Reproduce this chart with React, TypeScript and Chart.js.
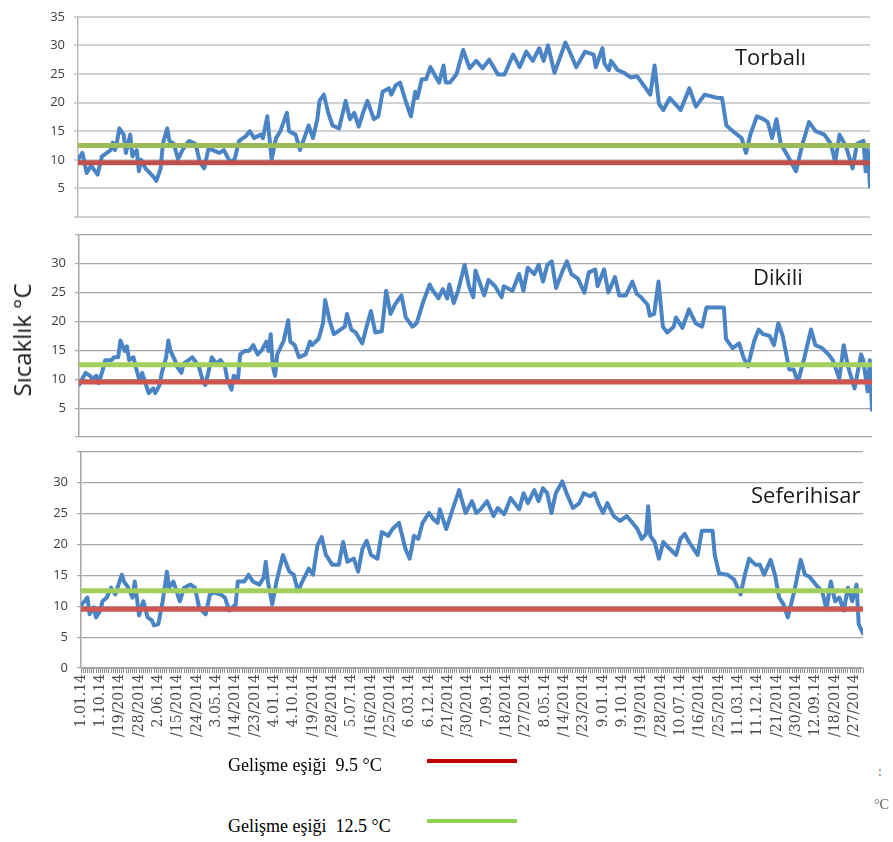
import React, { useEffect, useRef } from "react";
import { Chart, registerables } from "chart.js";

Chart.register(...registerables);

type Pt = [number, number];

// day of year (0 = 1 Jan 2014), daily temperature °C
const torbaliTemps: Pt[] = [
  [0, 10], [2, 11.2], [4, 7.7], [6, 9], [9, 7.4], [11, 10.6], [15, 11.7], [16, 13], [17, 11.7], [18, 13.3],
  [19, 15.5], [21, 14.4], [22, 11.2], [24, 14.4], [25, 10.6], [27, 11.7], [28, 8], [29, 10], [31, 8.5], [33, 7.7],
  [35, 6.9], [36, 6.3], [38, 8.5], [39, 12.8], [41, 15.5], [42, 13.3], [44, 12.8], [46, 10.1], [48, 11.7], [50, 12.8],
  [51, 13.3], [54, 12.8], [56, 9.6], [58, 8.5], [60, 12], [62, 11.7], [65, 11.2], [67, 11.7], [70, 9.6], [72, 10.1],
  [74, 13.3], [77, 14.1], [79, 15], [81, 13.8], [84, 14.4], [85, 13.8], [87, 17.6], [88, 13.8], [89, 10.1], [91, 13.8],
  [93, 15], [96, 18.2], [97, 15], [100, 14.4], [102, 11.7], [104, 13.8], [106, 16], [108, 13.8], [110, 17.1], [111, 20.3],
  [113, 21.4], [115, 18.2], [117, 16], [120, 15.5], [123, 20.3], [125, 17.1], [127, 18.2], [129, 15.8], [131, 18.2], [133, 20.3],
  [136, 17.1], [138, 17.6], [140, 21.9], [143, 22.5], [144, 21.4], [146, 23], [148, 23.5], [151, 19.8], [153, 17.6], [155, 21.9],
  [156, 20.8], [158, 24.1], [160, 24.1], [162, 26.2], [165, 24.1], [166, 23.5], [168, 26.5], [169, 23.5], [171, 23.5], [174, 25],
  [177, 29.2], [180, 26], [183, 27.3], [186, 26], [189, 27.5], [193, 24.9], [196, 24.9], [200, 28.4], [203, 26.2], [206, 28.9],
  [209, 27.3], [212, 29.5], [214, 27.3], [216, 30], [219, 25.2], [222, 28.4], [224, 30.5], [226, 28.9], [229, 26.2], [233, 28.9],
  [237, 28.4], [238, 26.2], [241, 29.5], [242, 26.8], [244, 25.7], [245, 27.3], [248, 25.7], [251, 25.2], [254, 24.4], [257, 24.6],
  [260, 23], [263, 21.4], [265, 26.5], [267, 19.8], [269, 18.7], [272, 20.8], [277, 18.7], [281, 22.5], [284, 19.3], [288, 21.4],
  [294, 20.8], [296, 20.8], [298, 16], [301, 15], [305, 13.8], [307, 11.2], [309, 14.4], [312, 17.6], [315, 17.1], [317, 16.6],
  [319, 13.8], [321, 17.1], [323, 12.8], [327, 10.1], [330, 8], [333, 12.8], [336, 16.6], [339, 15], [343, 14.4], [346, 12.8],
  [348, 9.6], [350, 14.4], [353, 12.3], [356, 8.5], [358, 12.8], [361, 13.3], [362, 8], [363, 11.7], [364, 5.3],
];

const dikiliTemps: Pt[] = [
  [0, 9], [3, 11.1], [5, 10.6], [6, 10.1], [8, 10.6], [9, 9.3], [11, 11.7], [12, 13.3], [15, 13.3], [16, 13.8],
  [18, 13.8], [19, 16.7], [21, 14.9], [22, 15.7], [23, 13.3], [25, 13.8], [26, 12.2], [28, 9.5], [29, 11.1], [32, 7.6],
  [34, 8.4], [35, 7.6], [37, 9], [38, 11.1], [40, 13.8], [41, 16.7], [42, 14.9], [44, 13.3], [45, 12.2], [47, 11.1],
  [48, 12.7], [51, 13.5], [52, 13.8], [55, 12.2], [57, 9.5], [58, 9], [60, 12.2], [61, 13.8], [63, 12.7], [65, 13.3],
  [67, 12.2], [68, 10.1], [70, 8.2], [71, 10.6], [73, 10.1], [74, 14.3], [76, 14.9], [78, 14.9], [80, 15.9], [82, 14.3],
  [84, 15.1], [86, 16.5], [87, 14.9], [88, 17.8], [89, 12.2], [90, 10.6], [91, 14.3], [94, 16.7], [96, 20.2], [97, 16.5],
  [99, 15.9], [101, 13.8], [104, 14.3], [106, 16.5], [107, 15.9], [110, 17], [112, 19.7], [113, 23.7], [115, 20.2], [117, 17.8],
  [120, 18.6], [122, 19.1], [123, 21.3], [125, 18.6], [127, 18.1], [130, 16.2], [132, 19.1], [134, 21.8], [136, 18.1], [139, 18.3],
  [141, 25.3], [143, 21.3], [145, 22.9], [148, 24.5], [150, 20.7], [153, 19.1], [155, 19.7], [158, 23.4], [161, 26.4], [162, 25.6],
  [165, 24], [167, 25.6], [169, 24], [170, 26.4], [172, 23.2], [174, 25.3], [177, 29.8], [179, 26.1], [181, 24.2], [182, 28.8],
  [185, 25.6], [186, 24.5], [188, 27.2], [191, 26.1], [194, 24.2], [195, 26.1], [199, 25.3], [202, 28.2], [204, 25.3], [206, 29.3],
  [209, 28.2], [211, 29.8], [213, 26.9], [215, 29.8], [217, 30.4], [219, 25.8], [222, 28.8], [224, 30.4], [226, 28.2], [229, 27.4],
  [232, 25], [234, 28.5], [237, 29], [238, 26.1], [241, 29], [243, 25], [246, 27.7], [248, 24.5], [251, 24.5], [254, 26.9],
  [256, 24.8], [258, 24.2], [261, 22.9], [262, 21], [264, 21.3], [266, 26.9], [268, 19.1], [270, 18.1], [273, 19.1], [274, 20.7],
  [277, 18.9], [280, 22.1], [283, 19.7], [286, 19.1], [288, 22.4], [296, 22.4], [297, 17], [300, 15.4], [303, 16.2], [305, 13.8],
  [307, 12.2], [310, 16.7], [312, 18.6], [314, 17.8], [317, 17.5], [319, 15.9], [321, 19.7], [323, 17.5], [326, 11.7], [328, 11.7],
  [330, 9.5], [333, 13.8], [336, 18.6], [338, 15.9], [341, 15.4], [344, 14.3], [346, 13.3], [349, 10.1], [351, 15.9], [353, 12.2],
  [356, 8.4], [359, 14.3], [360, 13.3], [362, 7.9], [363, 13.3], [364, 4.7],
];

const seferihisarTemps: Pt[] = [
  [0, 10.1], [3, 11.4], [4, 8.7], [6, 9.8], [7, 8.2], [9, 9.3], [10, 10.8], [12, 11.4], [14, 13], [16, 11.9],
  [17, 13], [19, 15.1], [20, 14], [22, 13], [24, 11.4], [25, 14], [26, 11.4], [27, 8.5], [29, 10.8], [31, 8.2],
  [33, 7.7], [34, 6.9], [36, 7.1], [38, 10.8], [40, 15.6], [41, 13], [43, 14], [46, 10.8], [48, 13], [51, 13.5],
  [53, 13], [55, 9.8], [58, 8.7], [60, 11.9], [62, 12.2], [65, 11.9], [67, 11.4], [69, 9.3], [72, 10.3], [73, 14],
  [76, 14], [78, 15.1], [80, 14], [83, 13.5], [85, 14.6], [86, 17.2], [87, 14], [89, 10.3], [91, 14], [94, 18.3],
  [97, 15.6], [99, 15.1], [101, 12.4], [103, 14], [106, 16.1], [108, 15.1], [110, 19.8], [112, 21.2], [114, 18.3], [117, 16.7],
  [120, 16.7], [122, 20.4], [124, 17.2], [127, 17.7], [129, 15.6], [131, 19.3], [133, 20.6], [135, 18.3], [138, 17.7], [140, 22],
  [143, 21.4], [145, 22.5], [148, 23.5], [151, 19.3], [153, 17.7], [155, 21.4], [157, 20.9], [159, 23.5], [162, 25.1], [164, 24.1],
  [166, 23.5], [167, 25.7], [170, 22.5], [173, 25.7], [176, 28.8], [179, 25.1], [182, 27], [184, 25.1], [186, 25.7], [189, 27],
  [192, 24.6], [194, 25.9], [197, 24.9], [200, 27.5], [204, 25.7], [206, 28.3], [208, 26.7], [211, 28.8], [213, 27], [215, 29.1],
  [217, 28.3], [219, 25.1], [221, 28.3], [224, 30.2], [226, 28.3], [229, 25.9], [232, 26.7], [234, 28.3], [237, 27.8], [239, 28.3],
  [241, 26.5], [243, 25.1], [245, 26.7], [248, 24.6], [251, 23.8], [254, 24.6], [256, 23.8], [259, 22.5], [261, 20.9], [263, 21.7],
  [264, 26.2], [265, 21.4], [267, 20.4], [269, 17.7], [271, 20.4], [274, 19.3], [277, 18.3], [279, 20.9], [281, 21.7], [283, 20.4],
  [287, 18.3], [289, 22.2], [294, 22.2], [295, 18.3], [297, 15.3], [301, 15.1], [304, 14.3], [307, 11.9], [309, 15.1], [311, 17.7],
  [314, 16.7], [316, 16.7], [318, 15.1], [321, 17.5], [323, 15.1], [325, 11.4], [327, 10.3], [329, 8.2], [332, 12.4], [335, 17.5],
  [337, 15.1], [339, 14.8], [342, 13.5], [345, 12.4], [347, 9.5], [349, 14], [351, 10.8], [353, 11.4], [355, 9.3], [357, 13],
  [359, 10.8], [361, 13.5], [362, 7.1], [364, 5.6],
];

// one label every 9 days, as printed (truncated) on the axis
const xTickLabels = [
  "1.01.14", "1.10.14", "/19/2014", "/28/2014", "2.06.14", "/15/2014", "/24/2014", "3.05.14", "/14/2014", "/23/2014",
  "4.01.14", "4.10.14", "/19/2014", "/28/2014", "5.07.14", "/16/2014", "/25/2014", "6.03.14", "6.12.14", "/21/2014",
  "/30/2014", "7.09.14", "/18/2014", "/27/2014", "8.05.14", "/14/2014", "/23/2014", "9.01.14", "9.10.14", "/19/2014",
  "/28/2014", "10.07.14", "/16/2014", "/25/2014", "11.03.14", "11.12.14", "/21/2014", "/30/2014", "12.09.14", "/18/2014",
  "/27/2014",
];

const thresholdLow = 9.5;
const thresholdHigh = 12.5;
const firstDay = 0;
const lastDay = 364;
const labelEvery = 9;
const yMin = 0;
const yMax = 35;
const yStep = 5;

const stations = ["Torbalı", "Dikili", "Seferihisar"];
const legendTexts = ["Gelişme eşiği  9.5 °C", "Gelişme eşiği  12.5 °C"];

const W = 893;
const BLUE = "#4a84c4";

interface PanelProps {
  temps: Pt[];
  top: number;
  height: number;
  plotTop: number;
  plotBottom: number;
  plotLeft: number;
  plotRight: number;
  showX: boolean;
  hiddenLabels: number[];
  gridColor: string;
  gridWidth: number;
  axisColor: string;
  red: string;
  green: string;
}

function Panel(p: PanelProps) {
  const ref = useRef<HTMLCanvasElement>(null);
  useEffect(() => {
    if (!ref.current) return;
    const xHeight = p.top + p.height - p.plotBottom;
    const chart = new Chart(ref.current, {
      type: "line",
      data: {
        datasets: [
          {
            data: [
              { x: firstDay, y: thresholdHigh },
              { x: lastDay, y: thresholdHigh },
            ],
            borderColor: p.green,
            borderWidth: 5,
            pointRadius: 0,
            order: 0,
          },
          {
            data: [
              { x: firstDay, y: thresholdLow },
              { x: lastDay, y: thresholdLow },
            ],
            borderColor: p.red,
            borderWidth: 5,
            pointRadius: 0,
            order: 0,
          },
          {
            data: p.temps.map(([d, t]) => ({ x: d, y: t })),
            borderColor: BLUE,
            borderWidth: 4,
            pointRadius: 0,
            borderJoinStyle: "round",
            borderCapStyle: "round",
            tension: 0,
            order: 1,
          },
        ],
      },
      options: {
        responsive: false,
        animation: false,
        events: [],
        layout: {
          padding: {
            left: 0,
            right: W - p.plotRight,
            top: p.plotTop - p.top,
            bottom: p.showX ? 0 : p.top + p.height - p.plotBottom,
          },
        },
        plugins: { legend: { display: false }, tooltip: { enabled: false } },
        scales: {
          x: {
            type: "linear",
            min: firstDay,
            max: lastDay,
            display: p.showX,
            afterFit: (s: any) => {
              s.height = xHeight;
            },
            border: { display: true, color: p.axisColor, width: 1 },
            grid: {
              display: true,
              drawOnChartArea: false,
              drawTicks: true,
              tickLength: 5,
              color: "#8c8c8c",
              tickColor: "#8c8c8c",
              lineWidth: 1,
              tickWidth: 1,
            },
            ticks: {
              stepSize: 1,
              autoSkip: false,
              minRotation: 90,
              maxRotation: 90,
              padding: 1,
              color: "#4a4a4a",
              font: { family: "'DejaVu Serif'", size: 14 },
              callback: (v: any) => {
                const n = Number(v);
                return n % labelEvery === 0 ? xTickLabels[n / labelEvery] ?? "" : "";
              },
            },
          },
          y: {
            min: yMin,
            max: yMax,
            afterFit: (s: any) => {
              s.width = p.plotLeft;
            },
            border: { display: true, color: p.axisColor, width: 1.5 },
            grid: {
              color: p.gridColor,
              lineWidth: p.gridWidth,
              tickLength: 4,
            },
            ticks: {
              stepSize: yStep,
              padding: 9,
              color: "#404040",
              font: { family: "'Open Sans'", size: 13 },
              callback: (v: any) => (p.hiddenLabels.includes(Number(v)) ? "" : String(v)),
            },
          },
        },
      },
    });
    return () => chart.destroy();
  }, []);
  return (
    <canvas
      ref={ref}
      width={W}
      height={p.height}
      style={{ position: "absolute", left: 0, top: p.top, width: W, height: p.height, display: "block" }}
    />
  );
}

const stationStyle: React.CSSProperties = {
  position: "absolute",
  fontFamily: "'Open Sans', sans-serif",
  fontSize: 22,
  color: "#1a1a1a",
  whiteSpace: "nowrap",
  lineHeight: "24px",
};

const legendStyle: React.CSSProperties = {
  position: "absolute",
  fontFamily: "'Liberation Serif', serif",
  fontSize: 18,
  color: "#000",
  whiteSpace: "pre",
  lineHeight: "20px",
};

export default function App() {
  return (
    <div style={{ position: "absolute", left: 0, top: 0, width: W, height: 842, background: "#fff", overflow: "hidden" }}>
      <Panel
        temps={torbaliTemps}
        top={0}
        height={241}
        plotTop={12}
        plotBottom={229}
        plotLeft={78}
        plotRight={870}
        showX={false}
        hiddenLabels={[0]}
        gridColor="#d2d2d2"
        gridWidth={2}
        axisColor="#bdbdbd"
        red="#c0504d"
        green="#9bbb59"
      />
      <Panel
        temps={dikiliTemps}
        top={218}
        height={243}
        plotTop={230}
        plotBottom={449}
        plotLeft={79}
        plotRight={872}
        showX={false}
        hiddenLabels={[0, 35]}
        gridColor="#a6a6a6"
        gridWidth={1.2}
        axisColor="#a6a6a6"
        red="#d0554f"
        green="#a3cf5c"
      />
      <Panel
        temps={seferihisarTemps}
        top={435}
        height={325}
        plotTop={447}
        plotBottom={668}
        plotLeft={81}
        plotRight={863}
        showX={true}
        hiddenLabels={[35]}
        gridColor="#a6a6a6"
        gridWidth={1.2}
        axisColor="#a6a6a6"
        red="#cf5650"
        green="#a2cf5c"
      />

      <div style={{ ...stationStyle, left: 735, top: 44 }}>{stations[0]}</div>
      <div style={{ ...stationStyle, left: 753, top: 264 }}>{stations[1]}</div>
      <div style={{ ...stationStyle, left: 751, top: 482 }}>{stations[2]}</div>

      <div
        style={{
          position: "absolute",
          left: 22,
          top: 340,
          transform: "translate(-50%, -50%) rotate(-90deg)",
          fontFamily: "'Open Sans', sans-serif",
          fontSize: 24,
          color: "#1a1a1a",
          whiteSpace: "nowrap",
          lineHeight: "28px",
        }}
      >
        Sıcaklık °C
      </div>

      <div style={{ ...legendStyle, left: 228, top: 755 }}>{legendTexts[0]}</div>
      <div style={{ position: "absolute", left: 427, top: 759, width: 90, height: 4, background: "#c00000" }} />
      <div style={{ ...legendStyle, left: 228, top: 816 }}>{legendTexts[1]}</div>
      <div style={{ position: "absolute", left: 427, top: 819, width: 90, height: 4, background: "#92d050" }} />

      <div style={{ position: "absolute", left: 878, top: 764, fontFamily: "'Liberation Serif', serif", fontSize: 14, color: "#666" }}>:</div>
      <div style={{ position: "absolute", left: 874, top: 797, fontFamily: "'Liberation Serif', serif", fontSize: 14, color: "#666", whiteSpace: "nowrap" }}>°C</div>
    </div>
  );
}
